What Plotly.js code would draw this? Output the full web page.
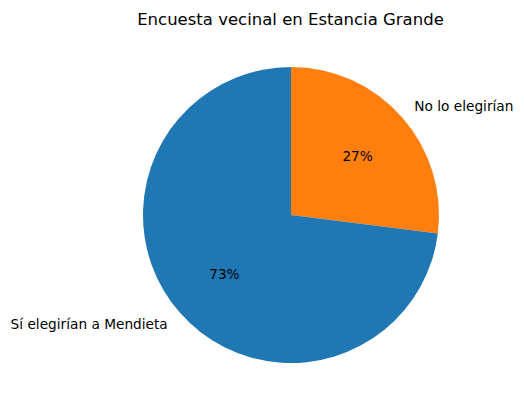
<!DOCTYPE html>
<html>
<head>
<meta charset="utf-8">
<script src="https://cdn.plot.ly/plotly-3.0.1.min.js"></script>
<style>body{margin:0;background:#fff;} #chart{width:524px;height:411px;}</style>
</head>
<body>
<div id="chart"></div>
<script>
// Encuesta vecinal
let labels = ['Sí elegirían a Mendieta', 'No lo elegirían'];
let values = [73, 27];
let colors = ['#1f77b4', '#ff7f0e'];

// matplotlib goes counterclockwise from 12 o'clock; plotly always puts the
// first slice clockwise from the top, so feed the slices in reverse order
let rLabels = labels.slice().reverse();
let rValues = values.slice().reverse();
let rColors = colors.slice().reverse();
let clear = ['rgba(0,0,0,0)', 'rgba(0,0,0,0)'];
let txtFont = {family: 'DejaVu Sans', size: 13.7, color: '#000'};

var W = 524, H = 411;
var CX = 291, CY = 215, R = 148;

// square domain (paper fractions) for a pie of radius rad round the centre
function dom(rad) {
  return {
    x: [(CX - rad) / W, (CX + rad) / W],
    y: [1 - (CY + rad) / H, 1 - (CY - rad) / H]
  };
}

function pie(rad, markerColors, tmpl, pos) {
  return {
    type: 'pie',
    labels: rLabels,
    values: rValues,
    sort: false,
    direction: 'clockwise',
    rotation: 0,
    domain: dom(rad),
    marker: {colors: markerColors},
    textinfo: tmpl ? 'text' : 'none',
    texttemplate: tmpl,
    textposition: pos,
    insidetextorientation: 'horizontal',
    textfont: txtFont,
    hoverinfo: 'skip',
    showlegend: false
  };
}

// the wedges themselves
var wedges = pie(R, rColors, null, 'none');
// transparent copies, only there to place the texts like matplotlib does
// (labels at 1.1 r, percentages at 0.6 r)
var outer = pie(159, clear, '%{label}', 'outside');
// plotly centres horizontal inside text at (1 - inscribed fraction) of the radius:
// 0.5 for the big slice, ~0.571 for the small one
var pctBig = pie(0.6 * R / 0.5, clear, ['', '%{percent:.0%}'], 'inside');
var pctSmall = pie(0.6 * R / 0.5714, clear, ['%{percent:.0%}', ''], 'inside');

var layout = {
  width: W,
  height: H,
  margin: {l: 0, r: 0, t: 0, b: 0},
  paper_bgcolor: '#fff',
  title: {
    text: 'Encuesta vecinal en Estancia Grande',
    font: {family: 'DejaVu Sans', size: 16.5, color: '#000'},
    x: 290.5 / W, xanchor: 'center',
    y: 1 - 19 / H, yanchor: 'middle'
  },
  font: {family: 'DejaVu Sans'}
};

Plotly.newPlot('chart', [wedges, outer, pctBig, pctSmall], layout, {displayModeBar: false, staticPlot: true});
</script>
</body>
</html>
